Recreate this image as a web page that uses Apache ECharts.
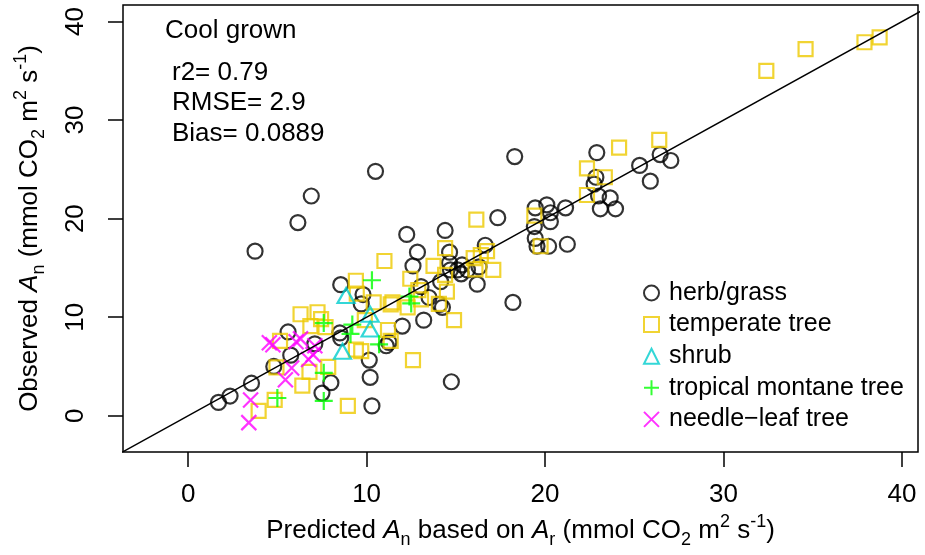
<!DOCTYPE html>
<html>
<head>
<meta charset="utf-8">
<script src="https://cdn.jsdelivr.net/npm/echarts@6/dist/echarts.min.js"></script>
<style>
  html, body { margin: 0; padding: 0; background: #fff; }
  #chart { width: 925px; height: 555px; }
</style>
</head>
<body>
<div id="chart"></div>
<script>
// [predicted, observed] pairs
const herbGrass = [
  [1.7, 1.35], [2.35, 2.0], [3.55, 3.3], [4.8, 5.0], [5.75, 6.15], [5.6, 8.5], [7.1, 7.3],
  [8.5, 8.4], [8.55, 7.9], [8.0, 3.35], [7.5, 2.3], [3.75, 16.7], [6.15, 19.6], [6.9, 22.3],
  [10.5, 24.8], [18.3, 26.3], [8.55, 13.3], [9.8, 12.3], [9.7, 11.35], [10.15, 5.65],
  [10.2, 3.9], [10.3, 1.0], [11.1, 7.1], [11.25, 7.45], [12.0, 9.1], [13.2, 9.7],
  [14.25, 11.0], [14.1, 11.3], [13.5, 12.0], [13.05, 13.1], [14.75, 3.45], [18.2, 11.5],
  [12.25, 18.4], [14.4, 18.8], [12.85, 16.6], [14.65, 16.6], [12.6, 15.2], [17.35, 20.1],
  [16.65, 17.3], [16.2, 13.35], [14.65, 15.5], [14.7, 14.8], [15.1, 14.8], [15.35, 15.3],
  [15.3, 14.4], [15.65, 14.8], [16.3, 15.1], [14.15, 13.6], [19.45, 21.1], [20.1, 21.4],
  [20.3, 20.6], [20.3, 19.7], [21.15, 21.1], [19.4, 19.2], [19.45, 18.0], [19.55, 17.2],
  [20.2, 17.2], [21.25, 17.4], [22.75, 23.5], [22.85, 24.2], [23.0, 22.3], [23.65, 22.1],
  [23.1, 21.0], [23.95, 21.0], [22.9, 26.7], [25.3, 25.4], [26.45, 26.5], [27.05, 25.9],
  [25.9, 23.8]
];
const temperateTree = [
  [3.95, 0.5], [4.85, 1.6], [4.95, 4.9], [5.15, 7.6], [6.3, 10.3], [7.25, 10.5], [7.45, 9.8],
  [6.85, 9.1], [7.7, 9.0], [6.8, 4.45], [6.4, 3.05], [7.85, 4.95], [8.95, 1.0], [9.4, 13.7],
  [9.45, 12.4], [10.4, 11.5], [9.9, 9.7], [9.4, 6.7], [9.7, 6.55], [11.0, 15.7], [12.45, 13.9],
  [12.9, 12.75], [13.05, 11.8], [14.5, 12.6], [14.05, 11.35], [12.3, 11.0], [11.45, 11.5],
  [11.35, 11.3], [11.2, 8.7], [11.35, 7.6], [14.9, 9.7], [12.6, 5.65], [14.4, 17.0],
  [13.75, 15.2], [14.4, 14.3], [16.0, 16.0], [16.4, 16.3], [16.75, 16.7], [16.1, 14.85],
  [17.1, 14.8], [16.15, 19.9], [19.4, 20.3], [19.75, 17.2], [22.35, 25.1], [23.35, 24.2],
  [22.35, 22.4], [24.15, 27.2], [26.4, 28.0], [32.4, 35.0], [34.6, 37.2], [37.9, 37.9],
  [38.75, 38.4]
];
const shrub = [[8.85, 12.2], [10.2, 10.3], [10.2, 8.8], [8.65, 6.55]];
const tropicalMontane = [
  [10.3, 13.75], [12.4, 12.1], [12.5, 11.4], [7.6, 9.4], [9.2, 9.25], [9.1, 8.3],
  [10.7, 7.25], [7.6, 4.35], [7.6, 1.5], [5.0, 1.8]
];
const needleLeaf = [
  [4.55, 7.4], [4.75, 7.2], [6.05, 7.5], [6.3, 7.8], [7.1, 7.1], [7.0, 6.2], [6.75, 5.7],
  [5.8, 4.85], [5.45, 3.65], [3.5, 1.6], [3.4, -0.7]
];
const oneToOne = [[-10, -10], [50, 50]];

const xTicks = [0, 10, 20, 30, 40];
const yTicks = [0, 10, 20, 30, 40];
const statLines = ['r2= 0.79', 'RMSE= 2.9', 'Bias= 0.0889'];

const font = 'Liberation Sans, Arial, Helvetica, sans-serif';
const rich = {
  n: { fontSize: 26, lineHeight: 36, verticalAlign: 'middle', fontFamily: font, color: '#000' },
  i: { fontSize: 26, lineHeight: 36, verticalAlign: 'middle', fontStyle: 'italic', fontFamily: font, color: '#000' },
  sub: { fontSize: 18, lineHeight: 18, verticalAlign: 'bottom', fontFamily: font, color: '#000' },
  sup: { fontSize: 18, lineHeight: 18, verticalAlign: 'top', fontFamily: font, color: '#000' }
};

function pts(name, data, symbol, size, color) {
  return {
    name: name,
    type: 'scatter',
    data: data,
    symbol: symbol,
    symbolSize: size,
    itemStyle: { color: 'rgba(0,0,0,0)', borderColor: color, borderWidth: 2.2 },
    emphasis: { disabled: true },
    z: 2
  };
}

const chart = echarts.init(document.getElementById('chart'));
chart.setOption({
  animation: false,
  backgroundColor: '#fff',
  grid: { left: 123, right: 7, top: 5, bottom: 103, show: true, borderColor: '#000', borderWidth: 1.5 },
  xAxis: {
    type: 'value', min: -3.65, max: 40.9,
    splitLine: { show: false },
    axisLine: { show: false, onZero: false },
    axisTick: { show: true, length: 15, customValues: xTicks, lineStyle: { color: '#000', width: 1.5 } },
    axisLabel: { customValues: xTicks, margin: 30, fontSize: 26, color: '#000', fontFamily: font },
    name: '{n|Predicted }{i|A}{sub|n}{n| based on }{i|A}{sub|r}{n| (mmol CO}{sub|2}{n| m}{sup|2}{n| s}{sup|-1}{n|)}',
    nameLocation: 'middle', nameGap: 59,
    nameTextStyle: { rich: rich }
  },
  yAxis: {
    type: 'value', min: -3.68, max: 41.68,
    splitLine: { show: false },
    axisLine: { show: false, onZero: false },
    axisTick: { show: true, length: 15, customValues: yTicks, lineStyle: { color: '#000', width: 1.5 } },
    axisLabel: { customValues: yTicks, rotate: 90, margin: 34, fontSize: 26, color: '#000', fontFamily: font },
    name: '{n|Observed }{i|A}{sub|n}{n| (mmol CO}{sub|2}{n| m}{sup|2}{n| s}{sup|-1}{n|)}',
    nameLocation: 'middle', nameGap: 75, nameRotate: 90,
    nameTextStyle: { rich: rich }
  },
  legend: {
    orient: 'vertical', left: 638, top: 275,
    itemWidth: 15, itemHeight: 15, itemGap: 5.6,
    textStyle: { fontSize: 25, lineHeight: 26, color: '#000', fontFamily: font, padding: [0, 0, 0, 5] },
    data: ['herb/grass', 'temperate tree', 'shrub', 'tropical montane tree', 'needle\u2212leaf tree']
  },
  graphic: [
    { type: 'text', x: 165, y: 31, style: { text: 'Cool grown', fontSize: 26, fontFamily: font, fill: '#000', verticalAlign: 'middle' } },
    { type: 'text', x: 172, y: 73, style: { text: statLines[0], fontSize: 26, fontFamily: font, fill: '#000', verticalAlign: 'middle' } },
    { type: 'text', x: 172, y: 103, style: { text: statLines[1], fontSize: 26, fontFamily: font, fill: '#000', verticalAlign: 'middle' } },
    { type: 'text', x: 172, y: 134, style: { text: statLines[2], fontSize: 26, fontFamily: font, fill: '#000', verticalAlign: 'middle' } }
  ],
  series: [
    pts('herb/grass', herbGrass, 'circle', 15, '#000'),
    pts('temperate tree', temperateTree, 'rect', 14, '#EEC900'),
    pts('shrub', shrub, 'triangle', [17, 15], '#00CDCD'),
    pts('tropical montane tree', tropicalMontane, 'path://M0 5H10M5 0V10', 18, '#00FF00'),
    pts('needle\u2212leaf tree', needleLeaf, 'path://M0 0L10 10M10 0L0 10', 15, '#FF00FF'),
    {
      type: 'line', data: oneToOne, symbol: 'none', silent: true, clip: true,
      lineStyle: { color: '#000', width: 1.5 }, z: 3
    }
  ]
});
</script>
</body>
</html>
